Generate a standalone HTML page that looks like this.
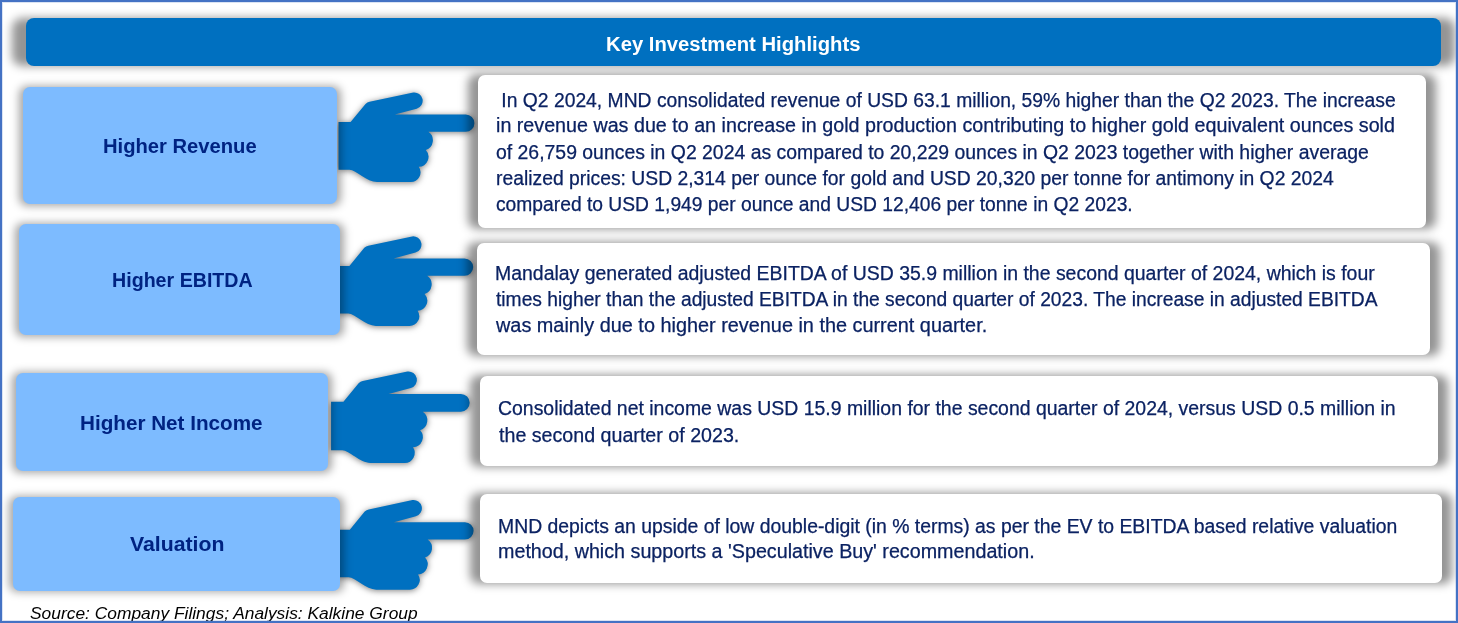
<!DOCTYPE html>
<html><head><meta charset="utf-8"><title>Key Investment Highlights</title><style>
*{margin:0;padding:0;box-sizing:border-box}
html,body{width:1458px;height:623px;overflow:hidden;background:#fff}
body{position:relative;font-family:"Liberation Sans",sans-serif}
.frame{position:absolute;left:0;top:0;width:1458px;height:623px;border:2px solid #4472c4;box-shadow:inset 0 0 0 1px rgba(68,114,196,.2);z-index:50;pointer-events:none}
.hdr{position:absolute;background:#0070c0;border-radius:8px}
.sh{position:absolute}
.lbl{position:absolute;background:#7dbbff;border-radius:7px}
.txt{position:absolute;background:#fff;border-radius:7px}
.hands{position:absolute;left:0;top:0;fill:#0070c0;filter:drop-shadow(0 1px 3px rgba(0,0,0,.5))}
.t{position:absolute;white-space:pre;line-height:1;transform-origin:0 0}
.body{font-size:19.5px;color:#0b2262;-webkit-text-stroke:0.25px #0b2262}
.label{font-size:20px;font-weight:bold;color:#002382}
.head{font-size:19.5px;font-weight:bold;color:#fff}
.src{font-size:15.6px;font-style:italic;color:#000}
</style></head>
<body>
<svg class="hands" width="1458" height="623" viewBox="0 0 1458 623"><path transform="translate(0 0)" d="M 338.5 122.1 L 350.6 122.1 L 365.5 103.9 Q 367.3 102.2 369.5 101.8 L 413.3 92.5 A 8.3 8.3 0 0 1 416.7 108.7 L 394.8 114.55 L 465.75 114.55 A 8.65 8.65 0 0 1 465.75 131.85 L 428.4 131.85 A 10.2 10.2 0 0 1 425.8 150 A 10 10 0 0 1 418.8 166.8 A 9.8 9.8 0 0 1 410.5 182.1 L 377 182.1 C 367 182.1 356 169.7 349.5 169.7 L 338.5 169.7 Z"/><path transform="translate(-1.2 143.9)" d="M 338.5 122.1 L 350.6 122.1 L 365.5 103.9 Q 367.3 102.2 369.5 101.8 L 413.3 92.5 A 8.3 8.3 0 0 1 416.7 108.7 L 394.8 114.55 L 465.75 114.55 A 8.65 8.65 0 0 1 465.75 131.85 L 428.4 131.85 A 10.2 10.2 0 0 1 425.8 150 A 10 10 0 0 1 418.8 166.8 A 9.8 9.8 0 0 1 410.5 182.1 L 377 182.1 C 367 182.1 356 169.7 349.5 169.7 L 338.5 169.7 Z"/><path transform="translate(-14.19 277.15) scale(1.02)" d="M 338.5 122.1 L 350.6 122.1 L 365.5 103.9 Q 367.3 102.2 369.5 101.8 L 413.3 92.5 A 8.3 8.3 0 0 1 416.7 108.7 L 394.8 114.55 L 465.75 114.55 A 8.65 8.65 0 0 1 465.75 131.85 L 428.4 131.85 A 10.2 10.2 0 0 1 425.8 150 A 10 10 0 0 1 418.8 166.8 A 9.8 9.8 0 0 1 410.5 182.1 L 377 182.1 C 367 182.1 356 169.7 349.5 169.7 L 338.5 169.7 Z"/><path transform="translate(-0.8 407.6)" d="M 338.5 122.1 L 350.6 122.1 L 365.5 103.9 Q 367.3 102.2 369.5 101.8 L 413.3 92.5 A 8.3 8.3 0 0 1 416.7 108.7 L 394.8 114.55 L 465.75 114.55 A 8.65 8.65 0 0 1 465.75 131.85 L 428.4 131.85 A 10.2 10.2 0 0 1 425.8 150 A 10 10 0 0 1 418.8 166.8 A 9.8 9.8 0 0 1 410.5 182.1 L 377 182.1 C 367 182.1 356 169.7 349.5 169.7 L 338.5 169.7 Z"/></svg>
<div class="sh" style="left:19.00px;top:85.50px;width:322.30px;height:120.00px;border-radius:8px;background:rgba(0,0,0,0.35);filter:blur(4.5px)"></div>
<div class="sh" style="left:15.30px;top:222.60px;width:328.70px;height:114.40px;border-radius:8px;background:rgba(0,0,0,0.35);filter:blur(4.5px)"></div>
<div class="sh" style="left:11.80px;top:371.50px;width:320.40px;height:101.10px;border-radius:8px;background:rgba(0,0,0,0.35);filter:blur(4.5px)"></div>
<div class="sh" style="left:9.00px;top:495.50px;width:335.00px;height:96.80px;border-radius:8px;background:rgba(0,0,0,0.35);filter:blur(4.5px)"></div>
<div class="lbl" style="left:23px;top:87px;width:314.3px;height:117px"></div>
<div class="lbl" style="left:19.3px;top:224.1px;width:320.7px;height:111.4px"></div>
<div class="lbl" style="left:15.8px;top:373px;width:312.4px;height:98.1px"></div>
<div class="lbl" style="left:13px;top:497px;width:327px;height:93.8px"></div>
<div class="sh" style="left:468.00px;top:74.00px;width:968.00px;height:155.00px;border-radius:9px;background:rgba(0,0,0,0.42);filter:blur(5px)"></div>
<div class="sh" style="left:466.60px;top:242.20px;width:973.20px;height:113.80px;border-radius:9px;background:rgba(0,0,0,0.42);filter:blur(5px)"></div>
<div class="sh" style="left:469.60px;top:375.00px;width:978.40px;height:92.00px;border-radius:9px;background:rgba(0,0,0,0.42);filter:blur(5px)"></div>
<div class="sh" style="left:470.30px;top:493.20px;width:982.00px;height:91.30px;border-radius:9px;background:rgba(0,0,0,0.42);filter:blur(5px)"></div>
<div class="txt" style="left:478px;top:75px;width:948px;height:153px"></div>
<div class="txt" style="left:476.6px;top:243.2px;width:953.2px;height:111.8px"></div>
<div class="txt" style="left:479.6px;top:376px;width:958.4px;height:90px"></div>
<div class="txt" style="left:480.3px;top:494.2px;width:962.0px;height:89.3px"></div>
<div class="sh" style="left:12.00px;top:17.70px;width:1442.50px;height:48.60px;border-radius:10px;background:rgba(0,0,0,0.42);filter:blur(5px)"></div>
<div class="hdr" style="left:26px;top:18px;width:1414.5px;height:48px"></div>
<div class="t body" style="left:495.87px;top:91.00px;transform:scaleX(0.9896)"> In Q2 2024, MND consolidated revenue of USD 63.1 million, 59% higher than the Q2 2023. The increase</div>
<div class="t body" style="left:496.39px;top:116.00px;transform:scaleX(1.0100)">in revenue was due to an increase in gold production contributing to higher gold equivalent ounces sold</div>
<div class="t body" style="left:495.90px;top:143.00px;transform:scaleX(0.9952)">of 26,759 ounces in Q2 2024 as compared to 20,229 ounces in Q2 2023 together with higher average</div>
<div class="t body" style="left:496.41px;top:169.00px;transform:scaleX(0.9908)">realized prices: USD 2,314 per ounce for gold and USD 20,320 per tonne for antimony in Q2 2024</div>
<div class="t body" style="left:495.91px;top:195.00px;transform:scaleX(0.9871)">compared to USD 1,949 per ounce and USD 12,406 per tonne in Q2 2023.</div>
<div class="t body" style="left:494.90px;top:264.00px;transform:scaleX(0.9970)">Mandalay generated adjusted EBITDA of USD 35.9 million in the second quarter of 2024, which is four</div>
<div class="t body" style="left:496.30px;top:290.00px;transform:scaleX(0.9862)">times higher than the adjusted EBITDA in the second quarter of 2023. The increase in adjusted EBITDA</div>
<div class="t body" style="left:496.00px;top:316.00px;transform:scaleX(1.0183)">was mainly due to higher revenue in the current quarter.</div>
<div class="t body" style="left:497.70px;top:399.00px;transform:scaleX(0.9966)">Consolidated net income was USD 15.9 million for the second quarter of 2024, versus USD 0.5 million in</div>
<div class="t body" style="left:498.70px;top:426.00px;transform:scaleX(1.0076)">the second quarter of 2023.</div>
<div class="t body" style="left:498.21px;top:517.00px;transform:scaleX(0.9937)">MND depicts an upside of low double-digit (in % terms) as per the EV to EBITDA based relative valuation</div>
<div class="t body" style="left:498.19px;top:542.00px;transform:scaleX(1.0106)">method, which supports a 'Speculative Buy' recommendation.</div>
<div class="t label" style="left:103.09px;top:136.10px;transform:scaleX(1.0093)">Higher Revenue</div>
<div class="t label" style="left:112.42px;top:270.10px;transform:scaleX(0.9817)">Higher EBITDA</div>
<div class="t label" style="left:80.47px;top:412.50px;transform:scaleX(1.0331)">Higher Net Income</div>
<div class="t label" style="left:129.50px;top:533.70px;transform:scaleX(1.0614)">Valuation</div>
<div class="t head" style="left:606.16px;top:35.00px;transform:scaleX(1.0391)">Key Investment Highlights</div>
<div class="t src" style="left:29.59px;top:606.00px;transform:scaleX(1.1144)">Source: Company Filings; Analysis: Kalkine Group</div>
<div class="frame"></div>
</body></html>
